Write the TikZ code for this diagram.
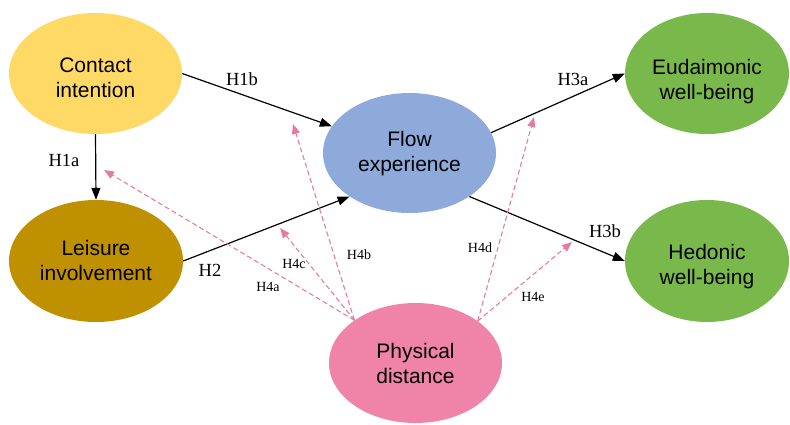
\documentclass[tikz,border=0pt]{standalone}
\usepackage{fontspec}
\setmainfont{Liberation Serif}
\setsansfont{Liberation Sans}
\usetikzlibrary{shapes.geometric,arrows.meta}
\definecolor{cyel}{HTML}{FFD966}
\definecolor{cgold}{HTML}{BF9000}
\definecolor{cblue}{HTML}{8EAADB}
\definecolor{cgreen}{HTML}{79B94C}
\definecolor{cpink}{HTML}{EF83A8}
\definecolor{cdash}{HTML}{E27D9E}
\newcommand{\toph}[1]{\rule{0pt}{#1pt}}
\newcommand{\botd}[1]{\rule[-#1pt]{0pt}{#1pt}}
\tikzset{
  var/.style={ellipse, inner sep=0pt, draw=none, align=center,
    font=\sffamily\fontsize{21}{25}\selectfont, text=black},
  blk/.style={draw=black, line width=1.2pt, -{Triangle[length=12pt,width=9pt]}},
  pnk/.style={draw=cdash, line width=1.1pt, dash pattern=on 5pt off 3pt,
    -{Triangle[length=10pt,width=8pt]}},
  hlab/.style={font=\rmfamily\fontsize{18.5}{20}\selectfont, inner sep=0pt},
  slab/.style={font=\rmfamily\fontsize{14}{16}\selectfont, inner sep=0pt}
}
\begin{document}
\begin{tikzpicture}[x=1pt,y=-1pt]
\useasboundingbox (0,0) rectangle (790,424);
\node[var, fill=cyel, minimum width=173pt, minimum height=121pt] (ci) at (95.5,73.5) {\toph{24}Contact\\intention};
\node[var, fill=cgold, minimum width=174pt, minimum height=122pt] (li) at (96,261) {\toph{16}Leisure\\involvement\botd{3}};
\node[var, fill=cblue, minimum width=173pt, minimum height=120pt] (fe) at (409.5,153) {\toph{17.5}Flow\\experience\botd{5}};
\node[var, fill=cgreen, minimum width=164pt, minimum height=121pt] (eu) at (707,73.5) {\toph{31}Eudaimonic\\well-being\botd{5}};
\node[var, fill=cgreen, minimum width=164pt, minimum height=122pt] (hw) at (707,261) {\toph{26}Hedonic\\well-being\botd{5}};
\node[var, fill=cpink, minimum width=173pt, minimum height=120pt] (pd) at (415.5,363) {\toph{16}Physical\\distance\botd{0.5}};

\coordinate (ta) at (104,170);
\coordinate (tc) at (280,228);
\coordinate (tb) at (293,124);
\coordinate (td) at (534,117);
\coordinate (te) at (572,242);

\draw[blk] (ci.south) -- (li.north);
\draw[blk] (ci.east) -- (fe.161.5);
\draw[blk] (li.east) -- (fe.216);
\draw[blk] (fe.14.6) -- (eu.west);
\draw[blk] (fe.-36) -- (hw.west);

\draw[pnk] (pd.145.5) -- (ta);
\draw[pnk] (pd.145.5) -- (tc);
\draw[pnk] (pd.145.5) -- (tb);
\draw[pnk] (pd.34.5) -- (td);
\draw[pnk] (pd.34.5) -- (te);

\node[hlab] (l1a) at (64,160) {H1a};
\node[hlab] (l1b) at (242,79) {H1b};
\node[hlab] (l2) at (210,270) {H2};
\node[hlab] (l3a) at (573,79) {H3a};
\node[hlab] (l3b) at (605,231) {H3b};
\node[slab] (l4a) at (268,287) {H4a};
\node[slab] (l4b) at (359,255) {H4b};
\node[slab] (l4c) at (294,264) {H4c};
\node[slab] (l4d) at (480,248) {H4d};
\node[slab] (l4e) at (533,297) {H4e};
\end{tikzpicture}
\end{document}
